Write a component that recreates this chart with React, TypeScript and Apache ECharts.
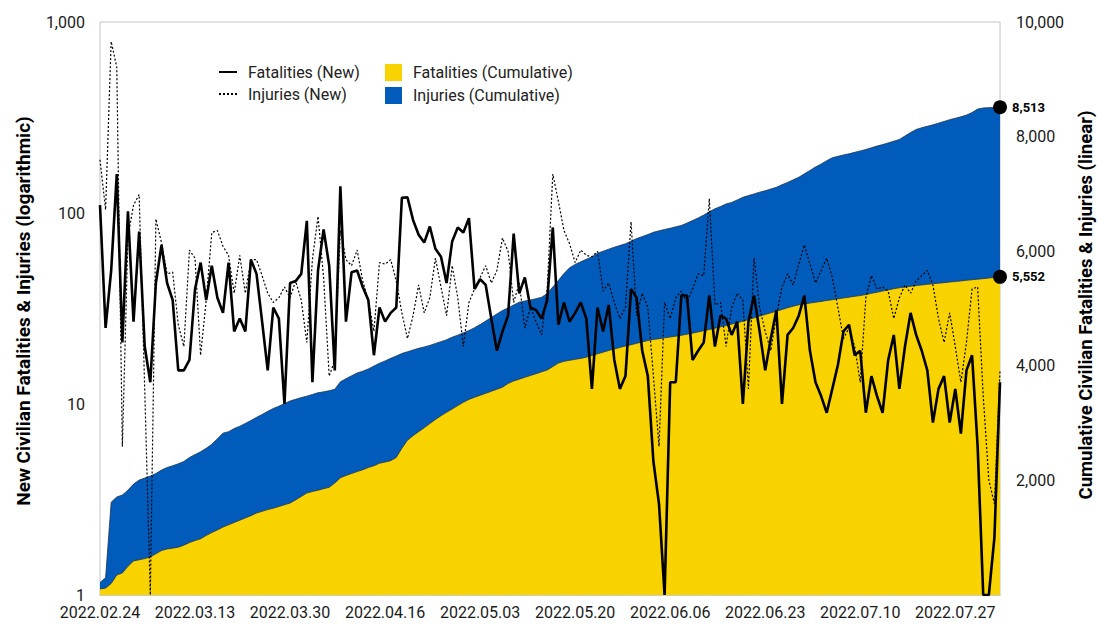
import React, { useEffect, useRef } from 'react';
import * as echarts from 'echarts';

const START_DATE = '2022-02-24';
const DAY_COUNT = 162;

const fatalitiesNew = [
  110, 25, 50, 160, 21, 102, 27, 80, 20, 13,
  43, 68, 43, 35, 15, 15, 17, 40, 55, 35,
  53, 36, 30, 55, 24, 28, 24, 57, 48, 27,
  15, 32, 28, 10, 43, 44, 48, 91, 13, 50,
  82, 53, 15, 138, 27, 49, 50, 41, 35, 18,
  32, 27, 30, 32, 120, 121, 92, 77, 70, 85,
  65, 59, 43, 71, 84, 79, 94, 40, 45, 42,
  28, 19, 24, 29, 78, 38, 46, 32, 31, 28,
  35, 84, 26, 34, 27, 30, 34, 28, 12, 32,
  24, 33, 17, 12, 14, 40, 36, 19, 14, 5,
  3, 1, 13, 13, 37, 37, 17, 19, 21, 37,
  20, 29, 28, 23, 27, 10, 27, 37, 24, 15,
  22, 31, 10, 23, 25, 29, 37, 19, 13, 11,
  9, 12, 16, 24, 26, 18, 19, 9, 14, 11,
  9, 17, 23, 12, 20, 30, 23, 19, 15, 8,
  12, 14, 8, 12, 7, 15, 18, 6, 1, 1,
  2, 13,
];

const injuriesNew = [
  190, 104, 790, 580, 6, 75, 110, 125, 12, 1,
  93, 70, 48, 49, 26, 20, 64, 58, 18, 35,
  79, 81, 67, 60, 38, 60, 38, 57, 57, 47,
  38, 34, 36, 41, 36, 44, 35, 21, 57, 96,
  46, 14, 17, 81, 57, 53, 64, 44, 35, 24,
  55, 54, 57, 44, 30, 22, 29, 42, 30, 36,
  58, 41, 29, 53, 36, 20, 34, 40, 46, 53,
  43, 50, 74, 63, 34, 43, 25, 32, 27, 23,
  40, 160, 115, 81, 69, 55, 64, 60, 59, 63,
  39, 43, 34, 28, 32, 90, 29, 38, 32, 14,
  6, 34, 28, 36, 39, 34, 40, 48, 47, 119,
  33, 34, 20, 32, 38, 35, 12, 58, 32, 24,
  19, 29, 41, 48, 42, 54, 68, 54, 43, 50,
  58, 46, 32, 22, 25, 20, 13, 36, 47, 40,
  41, 39, 28, 36, 42, 38, 44, 47, 50, 42,
  28, 21, 30, 20, 13, 21, 40, 41, 11, 4,
  3, 15,
];

const fatalitiesCum = [
  105, 120, 200, 350, 385, 500, 595, 615, 635, 665,
  720, 775, 803, 818, 833, 870, 915, 950, 980, 1040,
  1090, 1135, 1185, 1225, 1265, 1305, 1345, 1385, 1430, 1460,
  1490, 1515, 1545, 1575, 1605, 1660, 1720, 1780, 1805, 1830,
  1855, 1880, 1955, 2045, 2085, 2120, 2155, 2185, 2225, 2255,
  2300, 2320, 2345, 2400, 2560, 2700, 2780, 2851, 2919, 2991,
  3062, 3129, 3188, 3246, 3305, 3363, 3413, 3449, 3485, 3520,
  3555, 3590, 3627, 3691, 3736, 3767, 3799, 3830, 3862, 3894,
  3926, 3986, 4047, 4078, 4095, 4113, 4129, 4151, 4181, 4209,
  4238, 4267, 4294, 4321, 4345, 4368, 4392, 4416, 4440, 4459,
  4473, 4488, 4502, 4516, 4532, 4551, 4570, 4591, 4612, 4633,
  4656, 4680, 4703, 4727, 4752, 4778, 4807, 4837, 4867, 4896,
  4924, 4953, 4982, 5012, 5040, 5064, 5080, 5094, 5109, 5123,
  5139, 5153, 5169, 5183, 5198, 5212, 5226, 5244, 5265, 5284,
  5305, 5324, 5345, 5362, 5375, 5387, 5401, 5411, 5422, 5432,
  5441, 5451, 5462, 5472, 5481, 5492, 5502, 5512, 5521, 5532,
  5542, 5552,
];

const injuriesCum = [
  220, 300, 1620, 1710, 1745, 1830, 1935, 2005, 2040, 2075,
  2120, 2180, 2225, 2255, 2290, 2330, 2400, 2450, 2500, 2560,
  2630, 2725, 2825, 2850, 2905, 2945, 2995, 3045, 3100, 3150,
  3205, 3255, 3295, 3340, 3385, 3415, 3445, 3470, 3500, 3530,
  3545, 3565, 3590, 3720, 3775, 3825, 3875, 3905, 3945, 3995,
  4045, 4085, 4130, 4170, 4215, 4245, 4275, 4305, 4330, 4355,
  4390, 4420, 4455, 4500, 4535, 4575, 4615, 4665, 4720, 4780,
  4845, 4905, 4965, 5010, 5060, 5110, 5130, 5150, 5170, 5195,
  5260, 5375, 5490, 5610, 5710, 5770, 5815, 5860, 5900, 5965,
  6000, 6035, 6070, 6100, 6130, 6175, 6220, 6255, 6290, 6330,
  6355, 6380, 6400, 6425, 6450, 6490, 6535, 6580, 6630, 6690,
  6740, 6780, 6825, 6850, 6895, 6940, 6970, 7000, 7030, 7055,
  7085, 7115, 7160, 7200, 7245, 7290, 7350, 7410, 7470, 7520,
  7580, 7630, 7655, 7680, 7700, 7725, 7750, 7775, 7805, 7835,
  7860, 7890, 7920, 7950, 8010, 8070, 8125, 8155, 8180, 8205,
  8235, 8265, 8295, 8320, 8345, 8375, 8420, 8480, 8500, 8505,
  8510, 8513,
];

const YELLOW = '#F8D300';
const BLUE = '#005BBB';

function buildDates(start: string, n: number): string[] {
  const out: string[] = [];
  const d = new Date(start + 'T00:00:00Z');
  for (let i = 0; i < n; i++) {
    const y = d.getUTCFullYear();
    const m = String(d.getUTCMonth() + 1).padStart(2, '0');
    const day = String(d.getUTCDate()).padStart(2, '0');
    out.push(`${y}.${m}.${day}`);
    d.setUTCDate(d.getUTCDate() + 1);
  }
  return out;
}

const dates = buildDates(START_DATE, DAY_COUNT);

const FONT = 'Roboto, "Noto Sans", sans-serif';

export default function App() {
  const ref = useRef<HTMLDivElement>(null);
  useEffect(() => {
    if (!ref.current) return;
    const chart = echarts.init(ref.current, null, { renderer: 'svg' });
    const lastIdx = dates.length - 1;
    const fmt = (v: number) => v.toLocaleString('en-US');
    const endMark = (val: number) => ({
      symbol: 'circle',
      symbolSize: 14,
      silent: true,
      itemStyle: { color: '#000' },
      label: {
        show: true,
        position: 'right',
        distance: 5,
        color: '#000',
        fontWeight: 'bold',
        fontSize: 13,
        fontFamily: FONT,
        formatter: fmt(val),
      },
      data: [{ coord: [dates[lastIdx], val] }],
    });
    chart.setOption({
      animation: false,
      backgroundColor: '#fff',
      textStyle: { fontFamily: FONT },
      grid: {
        left: 100,
        right: 97,
        top: 22,
        bottom: 30,
        show: true,
        borderColor: '#c4c4c4',
        borderWidth: 1,
        backgroundColor: 'transparent',
      },
      legend: [
        {
          orient: 'vertical',
          left: 218,
          top: 64,
          itemGap: 6,
          itemWidth: 18,
          itemHeight: 17,
          padding: 0,
          itemStyle: { opacity: 0 },
          textStyle: { fontSize: 16, color: '#222', fontFamily: FONT, padding: [0, 0, 0, 6] },
          data: [
            { name: 'Fatalities (New)', itemStyle: { opacity: 0 } },
            { name: 'Injuries (New)', itemStyle: { opacity: 0 } },
          ],
        },
        {
          orient: 'vertical',
          left: 385,
          top: 64,
          itemGap: 6,
          itemWidth: 17,
          itemHeight: 17,
          padding: 0,
          textStyle: { fontSize: 16, color: '#222', fontFamily: FONT, padding: [0, 0, 0, 6] },
          data: [
            { name: 'Fatalities (Cumulative)', icon: 'rect', itemStyle: { color: YELLOW, borderWidth: 0 } },
            { name: 'Injuries (Cumulative)', icon: 'rect', itemStyle: { color: BLUE, borderWidth: 0 } },
          ],
        },
      ],
      xAxis: {
        type: 'category',
        data: dates,
        boundaryGap: false,
        axisLine: { show: true, lineStyle: { color: '#c4c4c4', width: 1.5 } },
        axisTick: { show: false },
        axisLabel: {
          interval: 16,
          fontSize: 16,
          color: '#1a1a1a',
          margin: 9,
          fontFamily: FONT,
        },
        splitLine: { show: false },
      },
      yAxis: [
        {
          type: 'log',
          logBase: 10,
          min: 1,
          max: 1000,
          position: 'left',
          axisLine: { show: false },
          axisTick: { show: false },
          splitLine: { show: false },
          axisLabel: {
            fontSize: 16,
            color: '#1a1a1a',
            margin: 15,
            fontFamily: FONT,
            formatter: (v: number) => fmt(v),
          },
        },
        {
          type: 'value',
          min: 0,
          max: 10000,
          interval: 2000,
          position: 'right',
          axisLine: { show: false },
          axisTick: { show: false },
          splitLine: { show: false },
          axisLabel: {
            fontSize: 16,
            color: '#1a1a1a',
            margin: 16,
            fontFamily: FONT,
            formatter: (v: number) => (v === 0 ? '' : fmt(v)),
          },
        },
      ],
      series: [
        {
          name: 'Injuries (Cumulative)',
          type: 'line',
          yAxisIndex: 1,
          data: injuriesCum,
          symbol: 'none',
          z: 1,
          itemStyle: { color: BLUE },
          lineStyle: { color: '#1d3557', width: 0.8 },
          areaStyle: { color: BLUE, opacity: 1 },
          markPoint: endMark(injuriesCum[lastIdx]),
        },
        {
          name: 'Fatalities (Cumulative)',
          type: 'line',
          yAxisIndex: 1,
          data: fatalitiesCum,
          symbol: 'none',
          z: 2,
          itemStyle: { color: YELLOW },
          lineStyle: { color: '#2a3550', width: 0.8 },
          areaStyle: { color: YELLOW, opacity: 1 },
          markPoint: endMark(fatalitiesCum[lastIdx]),
        },
        {
          name: 'Injuries (New)',
          type: 'line',
          yAxisIndex: 0,
          data: injuriesNew,
          symbol: 'none',
          z: 3,
          itemStyle: { color: '#000' },
          lineStyle: { color: '#000', width: 1.2, type: [2, 2] },
        },
        {
          name: 'Fatalities (New)',
          type: 'line',
          yAxisIndex: 0,
          data: fatalitiesNew,
          symbol: 'none',
          z: 4,
          itemStyle: { color: '#000' },
          lineStyle: { color: '#000', width: 2.6 },
        },
      ],
      graphic: [
        {
          type: 'text',
          x: 23,
          y: 311,
          rotation: Math.PI / 2,
          style: {
            text: 'New Civilian Fatalities & Injuries (logarithmic)',
            fill: '#000',
            font: 'bold 19px Roboto, sans-serif',
            textAlign: 'center',
            textVerticalAlign: 'middle',
          },
        },
        {
          type: 'text',
          x: 1086,
          y: 305,
          rotation: Math.PI / 2,
          style: {
            text: 'Cumulative Civilian Fatalities & Injuries (linear)',
            fill: '#000',
            font: 'bold 18.5px Roboto, sans-serif',
            textAlign: 'center',
            textVerticalAlign: 'middle',
          },
        },
      ],
    });
    return () => chart.dispose();
  }, []);
  return (
    <div
      ref={ref}
      style={{ position: 'absolute', left: 0, top: 0, width: 1097, height: 625 }}
    />
  );
}
